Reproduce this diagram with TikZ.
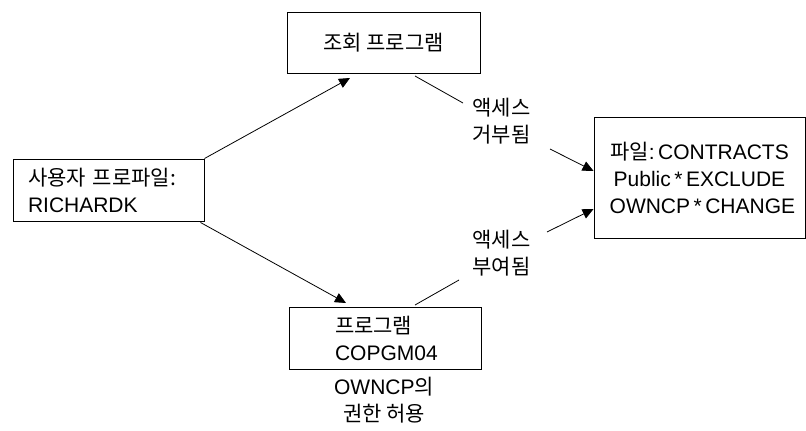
\documentclass[tikz,border=0pt]{standalone}
\usepackage{fontspec}
\setmainfont{Liberation Sans}
\newfontfamily\kr{Noto Sans CJK KR}
\usetikzlibrary{arrows.meta,calc}
\begin{document}
\begin{tikzpicture}[x=1pt,y=-1pt,
  every node/.style={font=\fontsize{21}{27}\selectfont},
  box/.style={draw, line width=0.9pt, inner sep=0pt},
  lab/.style={inner sep=0pt, align=center},
  conn/.style={line width=0.8pt},
  arr/.style={line width=0.8pt, -{Triangle[length=11pt,width=10pt]}}]
\useasboundingbox (0,0) rectangle (806,431);
% boxes
\node[box, minimum width=191pt, minimum height=62pt, text width=161pt, inner xsep=15pt, align=left] (prof) at (108.5,190)
  {{\kr 사용자 프로파일:}\\RICHARDK};
\node[box, minimum width=193pt, minimum height=61pt, align=center] (top) at (383.5,42.5)
  {\kr 조회 프로그램};
\node[box, minimum width=211pt, minimum height=121pt, align=center] (file) at (699.5,177.5)
  {{\kr 파일}:\,CONTRACTS\\Public\,*\,EXCLUDE\\\ OWNCP\,*\,CHANGE};
\node[box, minimum width=192pt, minimum height=62pt, text width=100pt, inner xsep=46pt, align=left] (prog) at (385,338)
  {{\kr 프로그램}\\COPGM04};
% labels
\node[lab] (lab1) at (501.5,121.5) {\kr 액세스\\\kr 거부됨};
\node[lab] (lab2) at (501.5,253) {\kr 액세스\\\kr 부여됨};
\node[lab] (own) at (384,400) {OWNCP{\kr 의}\\\kr 권한 허용};
% connector ends
\coordinate (t1) at (350,78);
\coordinate (t2) at (346,303);
\coordinate (s1) at (415,76);
\coordinate (e1) at (463,103);
\coordinate (s2) at (550,149);
\coordinate (s3) at (415,305);
\coordinate (e3) at (459,280);
\coordinate (s4) at (547,232);
% connectors
\draw[arr] (prof.north east) -- (t1);
\draw[arr] ($(prof.south east)+(-4,1)$) -- (t2);
\draw[conn] (s1) -- (e1);
\draw[arr] (s2) -- (file.west |- 0,171);
\draw[conn] (s3) -- (e3);
\draw[arr] (s4) -- (file.west |- 0,209);
\end{tikzpicture}
\end{document}
